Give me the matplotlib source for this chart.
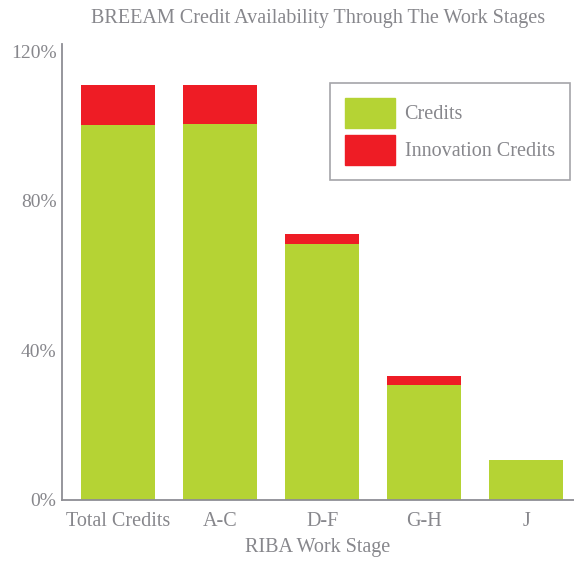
import matplotlib
matplotlib.use("Agg")
import matplotlib.pyplot as plt
from matplotlib.patches import Patch

categories = ["Total Credits", "A-C", "D-F", "G-H", "J"]
credits = [100.3, 100.5, 68.5, 30.7, 10.7]
innovation = [10.8, 10.6, 2.7, 2.6, 0.0]
yticks = [0, 40, 80, 120]
ytick_labels = ["0%", "40%", "80%", "120%"]

green = "#b5d334"
red = "#ee1c25"
txt = "#87878c"
font = "Liberation Serif"

fig = plt.figure(figsize=(5.74, 5.62), dpi=100)
ax = fig.add_axes([62/574, 1-500/562, 1-62/574, (500-44)/562])

x = list(range(len(categories)))
ax.bar(x, credits, width=0.72, color=green, label="Credits", zorder=2)
ax.bar(x, innovation, width=0.72, bottom=credits, color=red, label="Innovation Credits", zorder=2)

ax.set_xlim(-0.55, 4.47)
ax.set_ylim(0, 122)
ax.set_yticks(yticks)
ax.set_yticklabels(ytick_labels, fontsize=14, color=txt, family=font)
ax.set_xticks(x)
ax.set_xticklabels(categories, fontsize=14.5, color=txt, family=font)
ax.tick_params(axis="x", length=0, pad=9)
ax.tick_params(axis="y", length=0, pad=4)
for s in ["top", "right"]:
    ax.spines[s].set_visible(False)
for s in ["left", "bottom"]:
    ax.spines[s].set_color("#8e8e94")
    ax.spines[s].set_linewidth(1.3)

ax.set_xlabel("RIBA Work Stage", fontsize=14.5, color=txt, family=font, labelpad=5)
fig.text(318/574, 1-19/562, "BREEAM Credit Availability Through The Work Stages",
         ha="center", va="center", fontsize=14.5, color=txt, family=font)

handles = [Patch(color=green), Patch(color=red)]
leg = ax.legend(handles, ["Credits", "Innovation Credits"],
                loc="upper left", bbox_to_anchor=((330-62)/512, 1-(83-44)/456),
                frameon=True, fancybox=False, handlelength=2.5, handleheight=1.9,
                prop={"family": font, "size": 14.5}, labelcolor=txt,
                borderpad=0.75, labelspacing=0.35, handletextpad=0.45, borderaxespad=0)
leg.get_frame().set_edgecolor("#8e8e94")
leg.get_frame().set_linewidth(1.2)

fig.savefig("out.png", dpi=100)
